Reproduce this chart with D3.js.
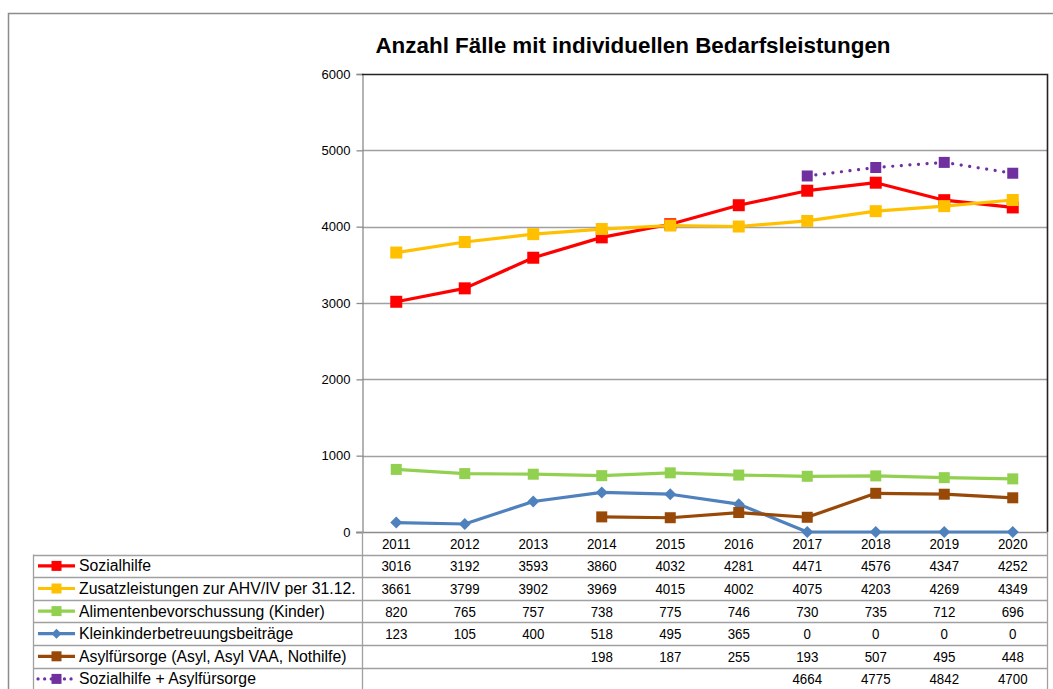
<!DOCTYPE html>
<html>
<head>
<meta charset="utf-8">
<script src="https://cdn.jsdelivr.net/npm/d3@7"></script>
<style>
  body { margin: 0; background: #fff; }
  svg { display: block; font-family: "Liberation Sans", Arial, sans-serif; }
  .num { font-size: 15.5px; }
</style>
</head>
<body>
<div id="chart"></div>
<script>
// data
var years = [2011, 2012, 2013, 2014, 2015, 2016, 2017, 2018, 2019, 2020];
var sozialhilfe = [3016, 3192, 3593, 3860, 4032, 4281, 4471, 4576, 4347, 4252];
var zusatzleistungen = [3661, 3799, 3902, 3969, 4015, 4002, 4075, 4203, 4269, 4349];
var alimente = [820, 765, 757, 738, 775, 746, 730, 735, 712, 696];
var kleinkinder = [123, 105, 400, 518, 495, 365, 0, 0, 0, 0];
var asyl = [null, null, null, 198, 187, 255, 193, 507, 495, 448];
var summe = [null, null, null, null, null, null, 4664, 4775, 4842, 4700];
var yTicks = [0, 1000, 2000, 3000, 4000, 5000, 6000];

var series = [
  { name: 'Sozialhilfe', values: sozialhilfe, color: '#ff0000', marker: 'square', size: 12 },
  { name: 'Zusatzleistungen zur AHV/IV per 31.12.', values: zusatzleistungen, color: '#ffc000', marker: 'square', size: 12 },
  { name: 'Alimentenbevorschussung (Kinder)', values: alimente, color: '#92d050', marker: 'square', size: 11 },
  { name: 'Kleinkinderbetreuungsbeiträge', values: kleinkinder, color: '#4f81bd', marker: 'diamond', size: 10 },
  { name: 'Asylfürsorge (Asyl, Asyl VAA, Nothilfe)', values: asyl, color: '#984807', marker: 'square', size: 11 },
  { name: 'Sozialhilfe + Asylfürsorge', values: summe, color: '#7030a0', marker: 'square', size: 11, dotted: true }
];

var width = 1053, height = 689;
var plot = { left: 362, right: 1047, top: 74, bottom: 532 };
var tableLeft = 33, rowH = 22.6;
var numSqueeze = 0.86;

var svg = d3.select('#chart').append('svg')
  .attr('width', width)
  .attr('height', height);

// outer chart frame
svg.append('path')
  .attr('d', 'M8.5,' + height + 'V13.5H' + width)
  .attr('fill', 'none')
  .attr('stroke', '#8c8c8c')
  .attr('stroke-width', 1.5);

svg.append('text')
  .attr('x', 633)
  .attr('y', 53)
  .attr('text-anchor', 'middle')
  .style('font-size', '22.4px')
  .style('font-weight', 'bold')
  .text('Anzahl Fälle mit individuellen Bedarfsleistungen');

var x = d3.scaleBand().domain(years).range([plot.left, plot.right]);
var y = d3.scaleLinear().domain([0, 6000]).range([plot.bottom, plot.top]);

// gridlines
svg.append('g').selectAll('line')
  .data(yTicks.slice(1, -1))
  .enter().append('line')
  .attr('x1', plot.left).attr('x2', plot.right)
  .attr('y1', function(d) { return Math.round(y(d)) + 0.5; })
  .attr('y2', function(d) { return Math.round(y(d)) + 0.5; })
  .attr('stroke', '#a0a0a0')
  .attr('stroke-width', 1.3);

// y axis
var yAxis = svg.append('g')
  .attr('transform', 'translate(' + (plot.left + 0.5) + ',0)')
  .call(d3.axisLeft(y).tickValues(yTicks).tickSize(6).tickPadding(6).tickFormat(d3.format('d')));
yAxis.select('.domain').attr('stroke', '#8c8c8c').attr('stroke-width', 1.3);
yAxis.selectAll('.tick line').attr('stroke', '#8c8c8c').attr('stroke-width', 1.3);
yAxis.selectAll('.tick text')
  .attr('fill', '#000')
  .style('font-size', '13px')
  .style('font-family', '"Liberation Sans", Arial, sans-serif');

// plot frame top and right
svg.append('path')
  .attr('d', 'M' + plot.left + ',' + (plot.top + 0.5) + 'H' + (plot.right + 0.5) + 'V' + plot.bottom)
  .attr('fill', 'none')
  .attr('stroke', '#222')
  .attr('stroke-width', 1.6);

// x axis (zero line)
svg.append('line')
  .attr('x1', plot.left - 6).attr('x2', plot.right + 1)
  .attr('y1', plot.bottom + 0.5).attr('y2', plot.bottom + 0.5)
  .attr('stroke', '#8c8c8c').attr('stroke-width', 1.3);

function cx(i) { return x(years[i]) + x.bandwidth() / 2; }

function drawMarker(g, s, px, py) {
  var h = s.size / 2;
  if (s.marker === 'diamond') {
    g.append('path')
      .attr('d', 'M' + px + ',' + (py - h - 1) + 'L' + (px + h + 1) + ',' + py + 'L' + px + ',' + (py + h + 1) + 'L' + (px - h - 1) + ',' + py + 'Z')
      .attr('fill', s.color);
  } else {
    g.append('rect')
      .attr('x', px - h).attr('y', py - h)
      .attr('width', s.size).attr('height', s.size)
      .attr('fill', s.color);
  }
}

var line = d3.line()
  .defined(function(d) { return d != null; })
  .x(function(d, i) { return cx(i); })
  .y(function(d) { return y(d); });

// lines and markers, in series order like the original
series.forEach(function(s) {
  var g = svg.append('g');
  g.append('path')
    .datum(s.values)
    .attr('d', line)
    .attr('fill', 'none')
    .attr('stroke', s.color)
    .attr('stroke-width', 3.2)
    .attr('stroke-linejoin', 'round')
    .attr('stroke-linecap', s.dotted ? 'round' : 'butt')
    .attr('stroke-dasharray', s.dotted ? '0.1 8.5' : null);
  s.values.forEach(function(v, i) {
    if (v != null) drawMarker(g, s, cx(i), y(v));
  });
});

// data table
var table = svg.append('g');
var tableTop = plot.bottom + rowH;

function numText(px, py, txt) {
  table.append('text')
    .attr('class', 'num')
    .attr('transform', 'translate(' + px + ',' + py + ') scale(' + numSqueeze + ',1)')
    .attr('text-anchor', 'middle')
    .text(txt);
}

// year row
years.forEach(function(yr, i) {
  numText(cx(i), plot.bottom + rowH / 2 + 5.5, yr);
});

// horizontal rules
d3.range(series.length + 1).forEach(function(r) {
  var ry = Math.round(tableTop + r * rowH) + 0.5;
  table.append('line')
    .attr('x1', tableLeft).attr('x2', plot.right + 1)
    .attr('y1', ry).attr('y2', ry)
    .attr('stroke', '#a0a0a0').attr('stroke-width', 1.3);
});
// vertical rules
[tableLeft + 0.5, plot.left + 0.5, plot.right + 0.5].forEach(function(vx, j) {
  table.append('line')
    .attr('x1', vx).attr('x2', vx)
    .attr('y1', j === 0 ? tableTop : plot.bottom)
    .attr('y2', height)
    .attr('stroke', '#a0a0a0').attr('stroke-width', 1.3);
});

series.forEach(function(s, r) {
  var mid = tableTop + r * rowH + rowH / 2;
  var lg = table.append('g');
  lg.append('line')
    .attr('x1', 38).attr('x2', 75)
    .attr('y1', mid).attr('y2', mid)
    .attr('stroke', s.color)
    .attr('stroke-width', 3.2)
    .attr('stroke-linecap', s.dotted ? 'round' : 'butt')
    .attr('stroke-dasharray', s.dotted ? '0.1 6.5' : null);
  drawMarker(lg, { color: s.color, marker: s.marker, size: s.marker === 'diamond' ? 8 : 10 }, 56.5, mid);
  lg.append('text')
    .attr('x', 79)
    .attr('y', mid + 5.5)
    .style('font-size', '15.8px')
    .text(s.name);
  s.values.forEach(function(v, i) {
    if (v != null) numText(cx(i), mid + 5.5, v);
  });
});
</script>
</body>
</html>
